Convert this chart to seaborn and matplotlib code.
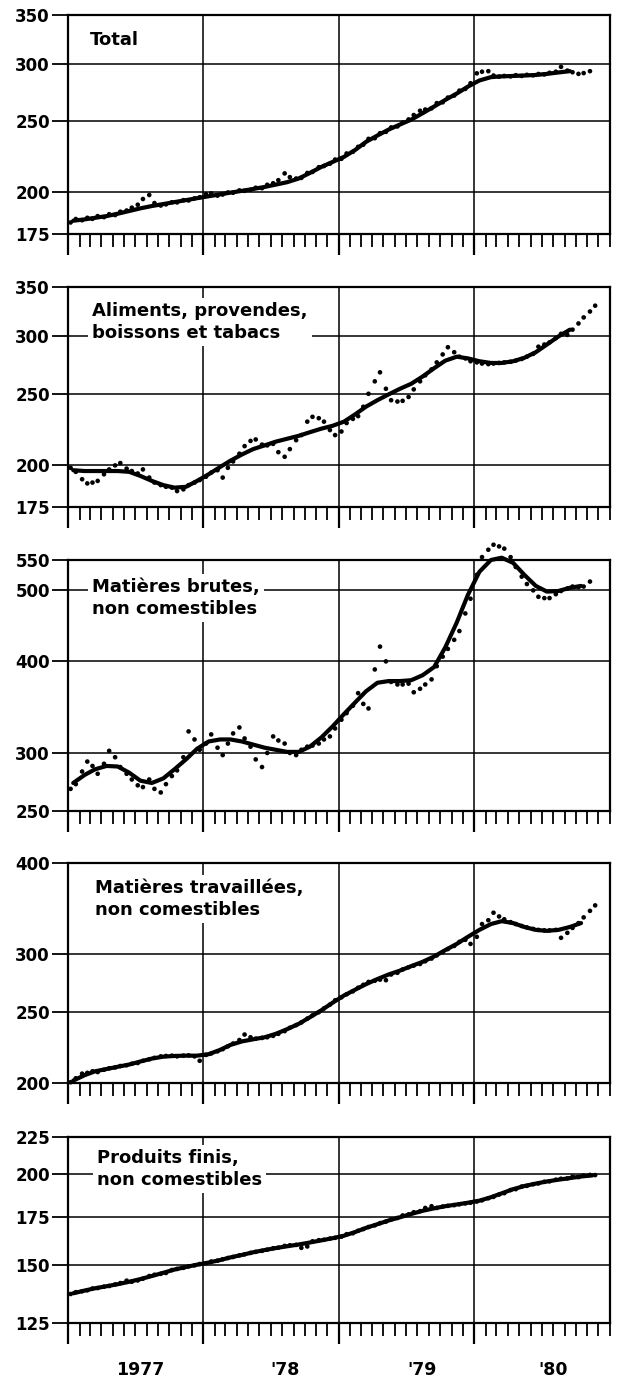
import matplotlib
matplotlib.use('Agg')
import pandas as pd
import matplotlib.pyplot as plt
import matplotlib.dates as mdates
from matplotlib.ticker import FixedLocator, FixedFormatter, NullLocator
import seaborn as sns

# Panel titles and y axes
titles = ['Total', 'Aliments, provendes,\nboissons et tabacs', 'Matières brutes,\nnon comestibles',
          'Matières travaillées,\nnon comestibles', 'Produits finis,\nnon comestibles']
y_ticks = [[175, 200, 250, 300, 350], [175, 200, 250, 300, 350], [250, 300, 400, 500, 550],
           [200, 250, 300, 400], [125, 150, 175, 200, 225]]
year_labels = ['1977', "'78", "'79", "'80"]

# Monthly trend (mid-month from Jan 1977) and semi-monthly observations
total_trend = [182.5, 183.3, 184.2, 185.2, 186.6, 188.2, 189.8, 191.2, 192.4, 193.6, 194.8, 196.0,
               197.2, 198.4, 199.5, 200.6, 201.8, 203.1, 204.6, 206.2, 208.6, 212.3, 216.4, 219.8,
               223.4, 228.5, 234.2, 239.0, 243.5, 247.5, 251.3, 256.5, 262.0, 267.5, 273.0, 279.0,
               284.5, 287.5, 288.2, 288.6, 289.0, 289.5, 290.5, 291.8, 293.0]
total_dots = [181.5, 183.5, 182.8, 184.2, 183.6, 185.2, 184.6, 186.3, 185.8, 187.8,
              188.5, 190.2, 192.0, 195.5, 198.0, 193.0, 191.5, 192.2, 193.5, 193.4,
              194.8, 194.6, 195.9, 196.6, 198.5, 199.0, 197.6, 198.3, 199.6, 199.4,
              200.9, 200.6, 201.2, 202.6, 202.3, 204.5, 205.5, 207.5, 212.0, 209.5,
              208.6, 209.0, 212.3, 213.0, 216.2, 217.0, 218.6, 221.5, 222.0, 225.8,
              227.0, 230.6, 232.2, 236.5, 237.0, 240.8, 241.8, 245.2, 246.0, 249.0,
              251.5, 255.0, 258.5, 259.5, 260.5, 264.8, 265.5, 269.5, 271.2, 275.5,
              277.0, 282.0, 291.0, 292.5, 293.0, 289.0, 288.0, 288.6, 288.2, 289.3,
              288.6, 289.6, 289.2, 290.4, 290.0, 291.5, 292.5, 297.0, 293.5, 292.0,
              290.5, 291.2, 293.0]

food_trend = [196.5, 196.0, 196.0, 196.0, 196.0, 195.5, 193.0, 190.0, 187.5, 186.0, 186.5, 190.0,
              194.0, 198.5, 202.5, 206.5, 210.0, 212.5, 215.0, 217.0, 219.0, 221.5, 224.0, 226.0,
              229.0, 234.5, 240.0, 245.0, 249.5, 254.0, 258.0, 264.0, 271.0, 277.5, 281.0, 279.5,
              277.0, 275.5, 275.5, 277.0, 280.0, 285.0, 292.0, 299.5, 306.0]
food_dots = [198.0, 195.5, 191.0, 188.5, 189.0, 190.0, 194.0, 197.0, 199.5, 201.0,
             197.5, 196.0, 194.5, 197.0, 192.0, 189.0, 187.5, 186.5, 186.0, 184.0,
             185.0, 187.5, 189.0, 190.5, 192.5, 195.0, 196.5, 192.0, 198.0, 202.0,
             207.0, 212.0, 215.5, 216.5, 213.0, 212.5, 213.5, 208.0, 205.0, 210.0,
             216.0, 219.5, 229.0, 232.5, 231.5, 229.0, 223.0, 219.5, 222.0, 228.0,
             231.0, 233.0, 240.0, 250.0, 260.0, 267.5, 254.0, 245.0, 244.0, 244.5,
             247.5, 253.5, 260.0, 265.0, 270.0, 276.0, 283.0, 289.5, 285.0, 281.0,
             279.5, 277.0, 276.0, 275.0, 274.5, 275.0, 275.5, 276.0, 276.5, 277.5,
             279.0, 281.0, 283.5, 290.0, 292.0, 294.0, 298.0, 302.0, 301.0, 306.0,
             312.0, 318.0, 324.0, 330.0]

crude_trend = [273, 280, 285, 288, 287.5, 282, 275, 273, 277, 285, 294, 304,
               311, 313, 313, 311, 308, 305, 303, 301, 301, 306, 315, 326,
               339, 352, 364, 374, 376, 376, 377, 383, 393, 418, 452, 493,
               530, 550, 554, 545, 525, 507, 498, 499, 504, 507]
crude_dots = [268, 272, 283, 292, 288, 281, 290, 302, 296, 287,
              281, 276, 271, 269.5, 276, 268, 265, 272, 279, 284,
              296, 321, 313, 303, 309, 318, 305, 298, 309, 319,
              325, 314, 306, 294, 287, 300, 316, 312, 309, 300,
              298, 303, 306, 307, 309, 313, 316, 324, 333, 340,
              348, 362, 350, 345, 390, 419, 400, 375, 372, 372,
              373, 363, 367, 372, 378, 394, 406, 416, 428, 440,
              465, 487, 525, 555, 568, 577, 574, 570, 555, 538,
              522, 510, 500, 490, 488, 488, 494, 499, 503, 506,
              505, 506, 514]

fab_trend = [201.5, 205, 207.5, 209, 210.5, 212, 214, 216, 217.3, 217.8, 218, 218,
             219, 222, 225.5, 228, 229.5, 231, 233.5, 237, 241, 246, 251.5, 257.5,
             263.5, 268.5, 273, 277.5, 281.5, 285, 289, 293, 298, 304, 310, 317,
             324, 330, 333, 331, 327, 324, 323, 324, 327, 331]
fab_dots = [200.5, 203, 206, 206.5, 207.5, 207, 208.5, 209.5, 210, 211,
            211.5, 212.5, 213, 214.5, 215.5, 216.5, 217.5, 217.8, 218, 217.5,
            218, 218.2, 217.5, 214.5, 218.5, 219.5, 221, 222.5, 224.5, 226.5,
            229, 233, 231, 230, 230.5, 231, 232, 233.5, 235.5, 238,
            240, 242, 245, 247.5, 250, 253, 256, 259.5, 262, 264.5,
            267, 270, 272.5, 275, 276, 277, 276.5, 281.5, 283, 286,
            288, 289.5, 291, 293.5, 296, 299, 302, 305, 308, 312,
            314, 310, 317, 330, 334, 342, 338, 335, 332, 330,
            328, 326.5, 325, 324, 323.5, 323.5, 324, 316, 321, 326,
            331, 337, 344, 350]

end_trend = [137.3, 138.5, 139.5, 140.4, 141.3, 142.4, 143.6, 145.0, 146.5, 148.0, 149.2, 150.3,
             151.3, 152.5, 153.8, 155.0, 156.3, 157.4, 158.4, 159.3, 160.2, 161.2, 162.3, 163.4,
             164.7, 166.7, 168.8, 170.8, 172.8, 174.6, 176.4, 178.2, 179.6, 180.8, 181.8, 182.8,
             184.0, 186.0, 188.3, 190.8, 192.7, 194.2, 195.5, 196.6, 197.6, 198.6, 199.3]
end_dots = [137.0, 137.8, 138.2, 138.6, 139.4, 139.6, 140.2, 140.5, 141.2, 141.8,
            142.9, 142.4, 143.0, 143.8, 145.0, 145.6, 146.0, 146.4, 147.8, 148.3,
            148.8, 149.5, 150.0, 150.6, 151.0, 151.8, 152.2, 152.9, 153.5, 154.0,
            154.8, 155.3, 156.0, 156.5, 157.0, 157.6, 158.3, 158.6, 159.5, 159.8,
            160.0, 158.5, 159.2, 161.8, 162.4, 162.6, 163.2, 163.6, 164.2, 165.5,
            166.0, 167.3, 168.2, 169.3, 170.2, 171.4, 172.2, 173.4, 174.2, 175.6,
            176.2, 177.4, 178.0, 179.8, 180.8, 179.8, 180.6, 181.0, 181.4, 181.9,
            182.4, 182.8, 183.5, 184.2, 185.4, 186.2, 187.6, 188.4, 190.3, 190.8,
            192.4, 192.8, 193.8, 194.3, 195.3, 195.6, 196.6, 197.2, 197.4, 198.5,
            198.2, 199.2, 199.6, 199.5]

trends = [total_trend, food_trend, crude_trend, fab_trend, end_trend]
dots = [total_dots, food_dots, crude_dots, fab_dots, end_dots]

sns.set_style('ticks')
plt.rcParams['font.family'] = ['DejaVu Sans']
plt.rcParams['font.weight'] = 'bold'
plt.rcParams['text.color'] = 'black'
plt.rcParams['xtick.color'] = 'black'
plt.rcParams['ytick.color'] = 'black'
plt.rcParams['axes.edgecolor'] = 'black'

W, H = 626, 1379
fig = plt.figure(figsize=(W / 100, H / 100), dpi=100)

# panel top/bottom in pixels
panels_px = [(15, 234), (287, 507), (560, 811), (863, 1083), (1137, 1323)]
title_px = [(90, 40), (92, 322), (92, 598), (95, 899), (97, 1169)]
left_px, right_px = 68, 610

x0, x1 = pd.Timestamp('1977-01-01'), pd.Timestamp('1981-01-01')
years = [pd.Timestamp(f'{y}-01-01') for y in range(1977, 1981)]

for i in range(5):
    top, bot = panels_px[i]
    ax = fig.add_axes([left_px / W, 1 - bot / H, (right_px - left_px) / W, (bot - top) / H])

    t_dates = pd.date_range('1977-01-01', periods=len(trends[i]), freq='MS') + pd.Timedelta(days=14)
    d_dates = pd.date_range('1977-01-01', periods=len(dots[i]), freq='SMS') + pd.Timedelta(days=7)

    sns.lineplot(x=t_dates, y=trends[i], color='black', linewidth=3.0, ax=ax, clip_on=False, zorder=4)
    sns.scatterplot(x=d_dates, y=dots[i], color='black', s=11, edgecolor='none', ax=ax,
                    clip_on=False, zorder=5)

    ax.set_yscale('log')
    ax.set_ylim(y_ticks[i][0], y_ticks[i][-1])
    ax.set_xlim(x0, x1)
    ax.yaxis.set_major_locator(FixedLocator(y_ticks[i]))
    ax.yaxis.set_major_formatter(FixedFormatter([str(v) for v in y_ticks[i]]))
    ax.yaxis.set_minor_locator(NullLocator())
    ax.xaxis.set_major_locator(FixedLocator(mdates.date2num(years)))
    ax.xaxis.set_minor_locator(mdates.MonthLocator())
    ax.tick_params(axis='x', which='both', labelbottom=False, direction='out', color='black')
    ax.tick_params(axis='x', which='major', length=15, width=1.6)
    ax.tick_params(axis='x', which='minor', length=9.5, width=1.3)
    ax.tick_params(axis='y', which='major', length=11.5, width=1.3, pad=1.5,
                   labelsize=12, color='black', labelcolor='black')
    ax.set_xlabel('')
    ax.set_ylabel('')
    ax.grid(True, which='major', color='black', linewidth=1.1)
    for s in ax.spines.values():
        s.set_linewidth(1.6)
        s.set_color('black')

    tx, ty = title_px[i]
    fig.text(tx / W, 1 - ty / H, titles[i], ha='left', va='center', fontsize=13,
             fontweight='bold', color='black', linespacing=1.3, zorder=10,
             bbox=dict(facecolor='white', edgecolor='none', pad=3))

# year labels under the last panel
label_px = [140, 285, 422, 553]
for lab, lx in zip(year_labels, label_px):
    fig.text(lx / W, 1 - 1370 / H, lab, ha='center', va='center', fontsize=12.5,
             fontweight='bold', color='black')

fig.savefig('out.png', dpi=100, facecolor='white')
